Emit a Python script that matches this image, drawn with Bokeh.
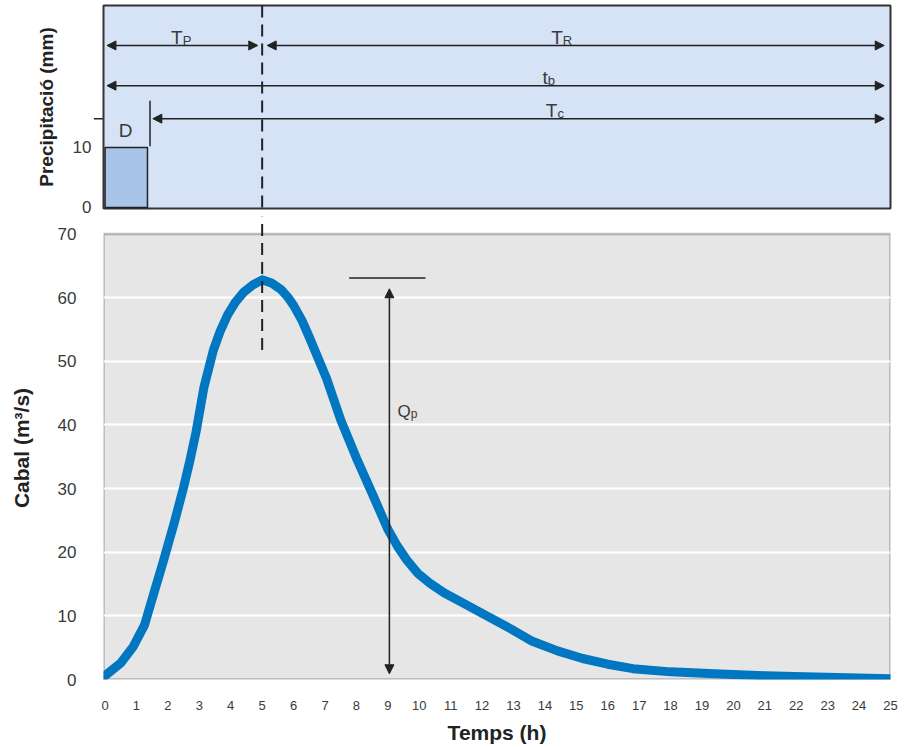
from bokeh.plotting import figure
from bokeh.layouts import column
from bokeh.models import (Range1d, Span, Arrow, NormalHead, ColumnDataSource,
                          FixedTicker, BoxAnnotation)
from bokeh.core.properties import value
from bokeh.embed import file_html
from bokeh.resources import INLINE

# ---------------- data ----------------
hours = [0.0, 0.5, 0.9, 1.25, 1.55, 1.85, 2.2, 2.5, 2.7, 2.9, 3.15, 3.45, 3.67,
         3.9, 4.15, 4.4, 4.7, 5.0, 5.3, 5.6, 5.8, 6.0, 6.27, 6.5, 7.05, 7.5, 8.0,
         8.55, 9.0, 9.3, 9.6, 9.95, 10.35, 10.8, 11.4, 12.15, 12.9, 13.6, 14.4,
         15.2, 16.0, 16.8, 18.0, 19.4, 21.0, 22.6, 25.0]
flow = [0.6, 2.6, 5.2, 8.5, 13.5, 18.5, 24.6, 30.2, 34.4, 39.0, 46.0, 51.8, 54.8,
        57.3, 59.3, 60.8, 62.0, 62.8, 62.3, 61.3, 60.2, 58.8, 56.4, 53.8, 47.3,
        40.8, 34.8, 28.7, 23.6, 21.0, 18.8, 16.7, 15.1, 13.6, 12.0, 10.0, 8.0,
        6.0, 4.5, 3.3, 2.4, 1.7, 1.2, 0.9, 0.6, 0.4, 0.1]

rain_start = [0]
rain_end = [1.35]
rain_mm = [10]

x_ticks = list(range(0, 26))
y_ticks_flow = [0, 10, 20, 30, 40, 50, 60, 70]
y_grid_flow = [10, 20, 30, 40, 50, 60]
y_ticks_rain = [0, 10]

t_peak = 5.0
q_peak = 63.1

# double arrows in the precipitation panel: T_P, T_R, t_b, T_c
arr_x0 = [0.06, 5.16, 0.06, 1.52]
arr_x1 = [4.86, 24.8, 24.8, 24.8]
arr_y = [27.0, 27.0, 20.3, 14.8]

# labels in the precipitation panel
lbl_main = ["T", "T", "t", "T", "D"]
lbl_sub = ["P", "R", "b", "c", ""]
lbl_x = [2.47, 14.57, 14.09, 14.4, 0.87]
lbl_y = [28.35, 28.35, 21.7, 16.1, 12.8]

FONT = "Liberation Sans"
TXT = "#3a3a3a"
EDGE = "#333333"
INK = "#222222"

xr = Range1d(-0.05, 25.0)

# ---------------- top panel: precipitation ----------------
top = figure(width=902, height=216, x_range=xr, y_range=Range1d(-0.17, 33.66),
             x_axis_location=None, toolbar_location=None, output_backend="svg",
             min_border_left=103, min_border_right=12, min_border_top=5,
             min_border_bottom=8)
top.background_fill_color = "#d6e2f5"
top.border_fill_color = "white"
top.outline_line_color = EDGE
top.outline_line_width = 2
top.grid.visible = False
ya = top.yaxis[0]
ya.ticker = FixedTicker(ticks=y_ticks_rain)
ya.axis_line_color = None
ya.major_tick_line_color = None
ya.minor_tick_line_color = None
ya.major_label_standoff = 6
ya.major_label_text_font = FONT
ya.major_label_text_font_size = "17px"
ya.major_label_text_color = TXT
ya.axis_label = "Precipitació (mm)"
ya.axis_label_text_font = FONT
ya.axis_label_text_font_size = "19px"
ya.axis_label_text_font_style = "bold"
ya.axis_label_text_color = INK
ya.axis_label_standoff = 13

top.quad(left=rain_start, right=rain_end, bottom=[0], top=rain_mm,
         fill_color="#a8c4e9", line_color=INK, line_width=1.5)

top.add_layout(Span(location=t_peak, dimension="height", line_color=INK,
                    line_width=2, line_dash="12 7"))

arr_src = ColumnDataSource(dict(x0=arr_x0, x1=arr_x1, y=arr_y))
top.add_layout(Arrow(start=NormalHead(size=9, fill_color=INK, line_color=INK),
                     end=NormalHead(size=9, fill_color=INK, line_color=INK),
                     x_start="x0", y_start="y", x_end="x1", y_end="y",
                     line_width=1.5, line_color=INK, source=arr_src))
# D arrow coming from outside the panel
top.add_layout(Arrow(start=None,
                     end=NormalHead(size=9, fill_color=INK, line_color=INK),
                     x_start=-0.71, y_start=14.8, x_end=-0.07, y_end=14.8,
                     line_width=1.5, line_color=INK))
# tick marking the end of the rain duration
top.segment(x0=[1.43], y0=[10.2], x1=[1.43], y1=[17.8], line_color=INK,
            line_width=1.5)

lbl_src = ColumnDataSource(dict(x=lbl_x, y=lbl_y, m=lbl_main, s=lbl_sub))
top.text(x="x", y="y", text="m", source=lbl_src, text_align="right",
         text_baseline="alphabetic", text_font=value(FONT),
         text_font_size="19px", text_color=TXT)
top.text(x="x", y="y", text="s", source=lbl_src, text_align="left",
         text_baseline="alphabetic", y_offset=3, text_font=value(FONT),
         text_font_size="13px", text_color=TXT)

# ---------------- bottom panel: discharge ----------------
bot = figure(width=902, height=530, x_range=xr, y_range=Range1d(0, 72.76),
             toolbar_location=None, output_backend="svg",
             min_border_left=103, min_border_right=12, min_border_top=0,
             min_border_bottom=66)
bot.background_fill_color = "white"
bot.outline_line_color = None
bot.add_layout(BoxAnnotation(bottom=0, top=70, fill_color="#e6e6e6", fill_alpha=1,
                             line_color=EDGE, line_width=2.5, level="image"))
bot.xgrid.visible = False
bot.ygrid.ticker = FixedTicker(ticks=y_grid_flow)
bot.ygrid.grid_line_color = "white"
bot.ygrid.grid_line_width = 2

xa = bot.xaxis[0]
xa.ticker = FixedTicker(ticks=x_ticks)
xa.axis_line_color = None
xa.major_tick_line_color = None
xa.minor_tick_line_color = None
xa.major_label_standoff = 15
xa.major_label_text_font = FONT
xa.major_label_text_font_size = "13px"
xa.major_label_text_color = TXT
xa.axis_label = "Temps (h)"
xa.axis_label_text_font = FONT
xa.axis_label_text_font_size = "21px"
xa.axis_label_text_font_style = "bold"
xa.axis_label_text_color = INK
xa.axis_label_standoff = 8

yb = bot.yaxis[0]
yb.ticker = FixedTicker(ticks=y_ticks_flow)
yb.axis_line_color = None
yb.major_tick_line_color = None
yb.minor_tick_line_color = None
yb.major_label_standoff = 21
yb.major_label_text_font = FONT
yb.major_label_text_font_size = "17px"
yb.major_label_text_color = TXT
yb.axis_label = "Cabal (m³/s)"
yb.axis_label_text_font = FONT
yb.axis_label_text_font_size = "21px"
yb.axis_label_text_font_style = "bold"
yb.axis_label_text_color = INK
yb.axis_label_standoff = 22

bot.line(hours, flow, line_width=9, line_color="#0077c0", line_cap="round",
         line_join="round")

bot.segment(x0=[t_peak], y0=[51.8], x1=[t_peak], y1=[72.76], line_color=INK,
            line_width=2, line_dash="12 7")

bot.segment(x0=[7.77], y0=[q_peak], x1=[10.2], y1=[q_peak], line_color=INK,
            line_width=1.5)
bot.add_layout(Arrow(start=NormalHead(size=9, fill_color=INK, line_color=INK),
                     end=NormalHead(size=9, fill_color=INK, line_color=INK),
                     x_start=9.05, y_start=0.9, x_end=9.05, y_end=61.4,
                     line_width=1.5, line_color=INK))
bot.text(x=[9.73], y=[42.1], text=["Q"], text_align="right",
         text_baseline="alphabetic", text_font=value(FONT),
         text_font_size="17px", text_color=TXT)
bot.text(x=[9.73], y=[42.1], text=["p"], text_align="left",
         text_baseline="alphabetic", y_offset=2, text_font=value(FONT),
         text_font_size="12px", text_color=TXT)

layout = column(top, bot, spacing=0)
open("out.html", "w").write(file_html(layout, INLINE))
